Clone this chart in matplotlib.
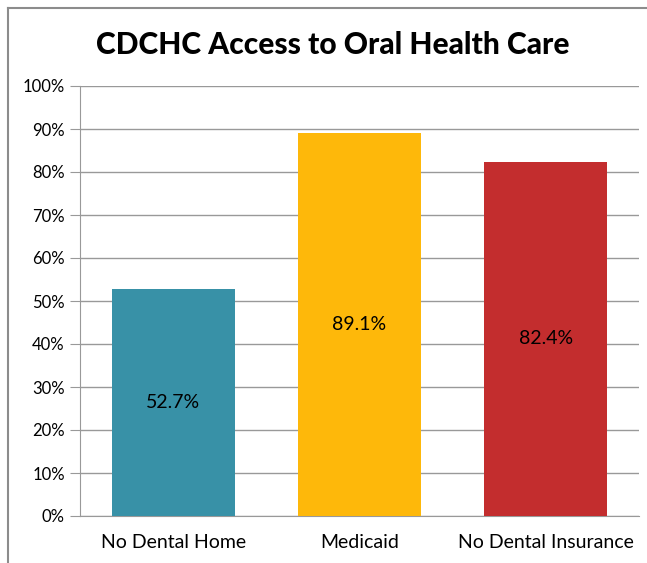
import matplotlib.pyplot as plt
from matplotlib.lines import Line2D

categories = ["No Dental Home", "Medicaid", "No Dental Insurance"]
values = [52.7, 89.1, 82.4]
labels = ["52.7%", "89.1%", "82.4%"]
colors = ["#3891A7", "#FEB80A", "#C32D2E"]
yticks = list(range(0, 101, 10))

plt.rcParams['font.family'] = ['Lato', 'DejaVu Sans']

fig = plt.figure(figsize=(6.47, 5.63), dpi=100)
ax = fig.add_axes([80 / 647, 1 - 516 / 563, 559 / 647, 430 / 563])

# outer chart frame (left and top edges visible)
fig.add_artist(Line2D([8 / 647, 8 / 647], [0, 1 - 8 / 563], color="#8c8c8c", lw=1.5))
fig.add_artist(Line2D([8 / 647, 1], [1 - 8 / 563, 1 - 8 / 563], color="#8c8c8c", lw=1.5))

x = range(len(categories))
ax.bar(x, values, width=0.66, color=colors, zorder=3)
for i, v in enumerate(values):
    ax.text(i, v / 2, labels[i], ha="center", va="center", fontsize=14, zorder=4)

ax.set_xlim(-0.5, 2.5)
ax.set_ylim(0, 100)
ax.set_yticks(yticks)
ax.set_yticklabels([f"{t}%" for t in yticks], fontsize=12)
ax.set_xticks(list(x))
ax.set_xticklabels(categories, fontsize=14)
ax.tick_params(axis="x", length=0, pad=13)
ax.tick_params(axis="y", length=7, color="#999999", pad=4)
ax.yaxis.grid(True, color="#999999", lw=1, zorder=0)
for s in ["top", "right"]:
    ax.spines[s].set_visible(False)
ax.spines["left"].set_color("#999999")
ax.spines["bottom"].set_color("#999999")

fig.text(333 / 647, 1 - 45 / 563, "CDCHC Access to Oral Health Care", ha="center", va="center",
         fontsize=21.5, fontweight="black")

fig.savefig("out.png", dpi=100)
